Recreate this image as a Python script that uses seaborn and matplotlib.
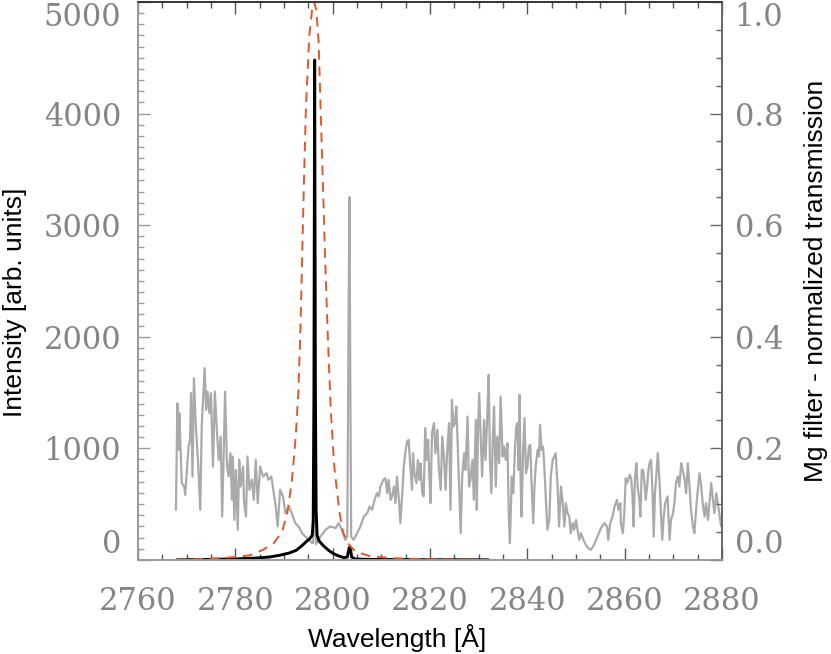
import seaborn as sns
from matplotlib import pyplot as plt
from matplotlib.ticker import MultipleLocator, FormatStrFormatter

sns.set_theme(style="ticks")
plt.rcParams["font.family"] = ["Liberation Sans", "DejaVu Sans"]

# observed spectrum (gray)
spec_wave = [2767.8, 2768.1, 2768.4, 2768.5, 2769.0, 2769.5, 2769.7, 2770.4, 2770.7, 2770.9,
             2771.2, 2771.5, 2771.9, 2772.4, 2772.8, 2773.1, 2773.7, 2774.0, 2774.3, 2774.7,
             2775.0, 2775.4, 2775.8, 2776.2, 2776.6, 2777.0, 2777.3, 2777.6, 2777.9, 2778.3,
             2778.6, 2779.0, 2779.3, 2779.5, 2779.8, 2780.1, 2780.5, 2780.8, 2781.1, 2781.6,
             2781.8, 2782.2, 2782.5, 2782.9, 2783.4, 2783.8, 2784.2, 2784.6, 2785.1, 2785.7,
             2786.4, 2786.8, 2787.4, 2787.9, 2788.3, 2788.7, 2789.2, 2789.8, 2790.3, 2791.0,
             2791.6, 2792.3, 2793.0, 2793.7, 2794.4, 2795.1, 2795.8, 2796.0, 2796.2, 2796.3,
             2796.4, 2796.6, 2797.5, 2798.5, 2799.5, 2800.6, 2801.2, 2801.9, 2802.6, 2803.0,
             2803.3, 2803.45, 2803.6, 2803.8, 2804.3, 2805.0, 2805.7, 2806.4, 2807.1, 2807.6,
             2808.1, 2808.6, 2809.1, 2809.5, 2809.8, 2810.4, 2810.85, 2811.2, 2811.5, 2811.9,
             2812.2, 2812.6, 2812.9, 2813.2, 2813.6, 2813.9, 2814.3, 2814.6, 2815.0, 2815.3,
             2815.6, 2816.0, 2816.3, 2816.5, 2816.8, 2817.2, 2817.5, 2817.8, 2818.05, 2818.4,
             2818.7, 2819.0, 2819.3, 2819.6, 2819.8, 2820.1, 2820.4, 2820.8, 2821.1, 2821.5,
             2821.8, 2822.2, 2822.5, 2822.85, 2823.2, 2823.5, 2823.9, 2824.2, 2824.5, 2824.8,
             2825.1, 2825.4, 2825.6, 2825.9, 2826.3, 2826.6, 2827.0, 2827.3, 2827.7, 2828.0,
             2828.3, 2828.7, 2829.0, 2829.4, 2829.6, 2829.85, 2830.1, 2830.4, 2830.7, 2831.1,
             2831.4, 2831.8, 2832.05, 2832.3, 2832.6, 2832.9, 2833.15, 2833.5, 2833.8, 2834.2,
             2834.5, 2834.9, 2835.2, 2835.55, 2835.9, 2836.2, 2836.4, 2836.8, 2837.1, 2837.4,
             2837.7, 2837.95, 2838.2, 2838.4, 2838.6, 2838.8, 2839.1, 2839.4, 2839.7, 2840.0,
             2840.3, 2840.6, 2840.8, 2841.2, 2841.45, 2841.7, 2842.1, 2842.4, 2842.6, 2842.9,
             2843.2, 2843.4, 2843.8, 2844.1, 2844.5, 2844.8, 2845.2, 2845.5, 2845.8, 2846.2,
             2846.5, 2846.9, 2847.2, 2847.6, 2847.9, 2848.25, 2848.6, 2848.9, 2849.3, 2849.6,
             2850.0, 2850.3, 2850.65, 2851.0, 2851.5, 2852.0, 2852.5, 2853.05, 2853.7, 2854.4,
             2855.1, 2855.8, 2856.35, 2856.6, 2857.0, 2857.5, 2857.9, 2858.4, 2858.7, 2859.1,
             2859.2, 2859.6, 2859.9, 2860.2, 2860.45, 2860.7, 2861.0, 2861.3, 2861.6, 2861.8,
             2862.1, 2862.4, 2862.65, 2863.0, 2863.2, 2863.5, 2863.75, 2864.0, 2864.3, 2864.6,
             2864.85, 2865.1, 2865.4, 2865.7, 2865.95, 2866.2, 2866.5, 2866.8, 2867.0, 2867.25,
             2867.45, 2867.7, 2868.0, 2868.3, 2868.55, 2868.8, 2869.2, 2869.5, 2869.9, 2870.2,
             2870.5, 2870.9, 2871.2, 2871.6, 2871.9, 2872.3, 2872.6, 2872.95, 2873.3, 2873.6,
             2874.0, 2874.3, 2874.7, 2875.0, 2875.35, 2875.7, 2876.0, 2876.4, 2876.7, 2877.1,
             2877.4, 2877.75, 2878.1, 2878.4, 2878.8, 2879.1, 2879.5, 2879.8]
spec_int = [448, 1404, 986, 1314, 687, 657, 582, 1016, 1075, 1494,
            747, 1628, 1195, 836, 448, 1195, 1718, 1344, 1508, 1314,
            1494, 836, 1508, 1165, 896, 1105, 388, 926, 1508, 836,
            747, 956, 538, 926, 358, 806, 269, 896, 657, 836,
            508, 388, 926, 627, 717, 538, 896, 508, 836, 747,
            777, 717, 747, 597, 478, 299, 627, 568, 418, 478,
            418, 329, 299, 239, 209, 179, 149, 150, 600, 1120,
            500, 140, 209, 269, 299, 284, 329, 269, 179, 209,
            2400, 3250, 1800, 209, 179, 239, 299, 388, 418, 478,
            448, 538, 597, 568, 657, 717, 732, 597, 717, 538,
            568, 657, 508, 747, 538, 329, 597, 836, 986, 1060,
            1075, 806, 627, 956, 777, 687, 896, 717, 866, 597,
            568, 1180, 896, 1075, 806, 508, 1135, 1225, 956, 1165,
            836, 627, 1105, 926, 627, 956, 1225, 448, 1434, 1195,
            1225, 1374, 1135, 747, 239, 747, 956, 806, 1284, 657,
            717, 896, 538, 1254, 448, 1165, 1494, 1105, 747, 1254,
            896, 1344, 1658, 896, 597, 1105, 1374, 657, 1105, 866,
            1464, 926, 1016, 896, 1045, 358, 149, 747, 597, 956,
            1195, 1225, 806, 1479, 717, 388, 956, 1270, 777, 836,
            1016, 1030, 747, 329, 657, 836, 986, 926, 1210, 986,
            1016, 896, 538, 269, 358, 747, 896, 926, 956, 657,
            299, 657, 538, 299, 508, 418, 388, 239, 329, 269,
            358, 269, 179, 239, 179, 134, 105, 90, 134, 209,
            284, 329, 299, 179, 329, 388, 478, 538, 448, 508,
            329, 239, 418, 732, 687, 717, 762, 732, 568, 299,
            747, 866, 657, 538, 388, 806, 806, 717, 538, 657,
            806, 866, 896, 597, 209, 597, 777, 956, 806, 597,
            388, 179, 388, 508, 538, 568, 179, 358, 418, 508,
            687, 747, 657, 866, 806, 717, 597, 866, 657, 448,
            299, 239, 478, 627, 777, 657, 508, 388, 508, 358,
            508, 687, 538, 418, 597, 508, 388, 299]

# Mg II k profile (black)
line_wave = [2768.0, 2772.0, 2776.0, 2780.0, 2784.0, 2787.0, 2789.0, 2791.0, 2792.5, 2793.5,
             2794.5, 2795.3, 2795.8, 2796.0, 2796.15, 2796.3, 2796.45, 2796.6, 2796.8, 2797.2,
             2797.8, 2798.5, 2799.3, 2800.2, 2801.2, 2802.3, 2803.0, 2803.4, 2803.6, 2803.9,
             2804.6, 2806.0, 2810.0, 2815.0, 2820.0, 2832.0]
line_int = [0, 2, 5, 8, 15, 25, 40, 60, 85, 120,
            160, 190, 220, 350, 1500, 4480, 1500, 450, 220, 170,
            140, 110, 80, 55, 35, 20, 25, 110, 110, 25,
            8, 5, 3, 2, 1, 0]

# Mg filter transmission (red dashed, right axis)
filt_wave = [2768.0, 2775.0, 2780.0, 2783.0, 2785.7, 2787.9, 2789.6, 2790.7, 2791.6, 2792.4,
             2792.95, 2793.4, 2793.75, 2794.1, 2794.5, 2795.2, 2795.75, 2796.2, 2796.65, 2797.1,
             2797.55, 2798.0, 2798.45, 2799.0, 2799.6, 2800.3, 2800.8, 2801.4, 2802.1, 2803.1,
             2804.6, 2807.5, 2812.0, 2820.0, 2830.0]
filt_trans = [0.0, 0.002, 0.005, 0.008, 0.018, 0.030, 0.05, 0.085, 0.14, 0.22,
              0.30, 0.42, 0.55, 0.68, 0.81, 0.94, 0.985, 1.0, 0.985, 0.93,
              0.80, 0.67, 0.54, 0.40, 0.27, 0.17, 0.13, 0.085, 0.05, 0.03,
              0.015, 0.007, 0.003, 0.001, 0.0]

TICK_GRAY = "#858585"

fig = plt.figure(figsize=(8.31, 6.54), dpi=100)
ax = fig.add_axes([0.166, 0.144, 0.703, 0.853])
ax2 = ax.twinx()

sns.lineplot(x=spec_wave, y=spec_int, ax=ax, color="#aaaaaa", lw=1.6)
sns.lineplot(x=line_wave, y=line_int, ax=ax, color="black", lw=2.1)
sns.lineplot(x=filt_wave, y=filt_trans, ax=ax2, color="#e2572a", lw=1.4, linestyle=(0, (5, 3.5)))

ax.set_xlim(2760, 2880)
ax.set_ylim(0, 5000)
ax2.set_ylim(0, 1.0)

ax.xaxis.set_major_locator(MultipleLocator(20))
ax.xaxis.set_minor_locator(MultipleLocator(5))
ax.yaxis.set_major_locator(MultipleLocator(1000))
ax.yaxis.set_minor_locator(MultipleLocator(100))
ax2.yaxis.set_major_locator(MultipleLocator(0.2))
ax2.yaxis.set_minor_locator(MultipleLocator(0.05))
ax2.yaxis.set_major_formatter(FormatStrFormatter("%.1f"))

ax.tick_params(axis="x", which="both", direction="in", top=True, bottom=True, colors="#555555",
               labelcolor=TICK_GRAY, pad=19)
ax.tick_params(axis="y", which="both", direction="in", left=True, right=False, colors="#999999",
               labelcolor=TICK_GRAY, pad=12)
ax2.tick_params(axis="y", which="both", direction="in", right=True, colors="#666666",
                labelcolor=TICK_GRAY, pad=9)
for a in (ax, ax2):
    a.tick_params(which="major", length=8.5, width=1)
    a.tick_params(which="minor", length=4.5, width=1)

for a in (ax, ax2):
    a.spines["left"].set_color("#999999")
    a.spines["bottom"].set_color("#999999")
    a.spines["top"].set_color("#333333")
    a.spines["right"].set_color("#666666")
    for s in a.spines.values():
        s.set_linewidth(1.2)

ax.set_xlabel("Wavelength [Å]", fontsize=19, color="black")
ax.set_ylabel("Intensity [arb. units]", fontsize=19, color="black")
ax2.set_ylabel("Mg filter - normalized transmission", fontsize=19, color="black", rotation=90)
ax.xaxis.set_label_coords(0.443, -0.115)
ax.yaxis.set_label_coords(-0.19, 0.462)
ax2.yaxis.set_label_coords(1.14, 0.5)

fig.canvas.draw()
for a, ytop in ((ax, 5000), (ax2, 1.0)):
    for tick in a.xaxis.get_major_ticks() + a.yaxis.get_major_ticks():
        for lab in (tick.label1, tick.label2):
            lab.set_fontfamily("DejaVu Serif")
            lab.set_fontsize(22)
    for tick in a.yaxis.get_major_ticks():
        loc = tick.get_loc()
        for lab in (tick.label1, tick.label2):
            if abs(loc - ytop) < 1e-6:
                lab.set_verticalalignment("top")
            elif abs(loc) < 1e-6:
                lab.set_verticalalignment("bottom")

fig.savefig("out.png", dpi=100)
